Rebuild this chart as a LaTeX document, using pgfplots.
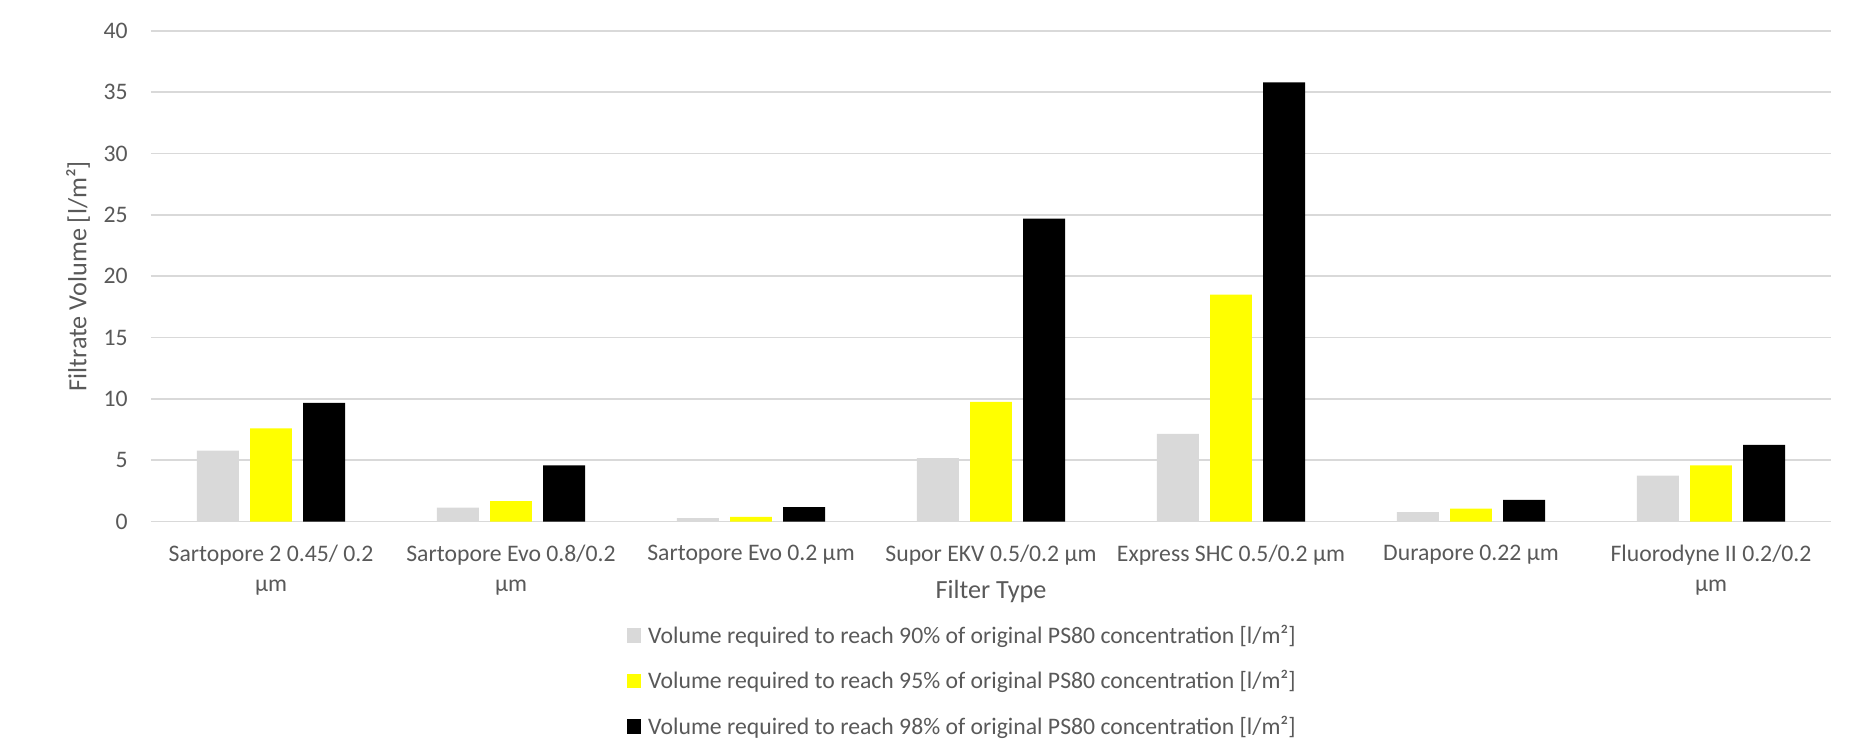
\documentclass[border=0pt]{standalone}
\usepackage{pgfplots}
\pgfplotsset{compat=1.18}
\usepackage{fontspec}
\setmainfont{Carlito}
\definecolor{txt}{HTML}{595959}
\definecolor{grd}{HTML}{D9D9D9}
\definecolor{sgray}{HTML}{D9D9D9}
\definecolor{syel}{HTML}{FFFF00}
\begin{document}
\begin{tikzpicture}
\begin{axis}[
  at={(0,0)}, anchor=south west,
  scale only axis, width=840pt, height=245.3pt,
  xmin=-0.5, xmax=6.5, ymin=0, ymax=40,
  ytick={0,5,...,40},
  xtick={0,...,6},
  xticklabels={{Sartopore 2 0.45/ 0.2\\µm},{Sartopore Evo 0.8/0.2\\µm},{Sartopore Evo 0.2 µm},{Supor EKV 0.5/0.2 µm},{Express SHC 0.5/0.2 µm},{Durapore 0.22 µm},{Fluorodyne II 0.2/0.2\\µm}},
  xticklabel style={align=center, font=\fontsize{11.85}{15}\selectfont, text=txt, anchor=north, inner sep=0pt, yshift=-11.7pt},
  yticklabel style={font=\fontsize{11.85}{14}\selectfont, text=txt, anchor=east, inner sep=0pt, xshift=-11.5pt},
  /pgf/number format/assume math mode=true,
  major tick length=0pt,
  axis line style={draw=none},
  ymajorgrids, grid style={grd, line width=0.75pt},
  xlabel={Filter Type},
  ylabel={Filtrate Volume [l/m²]},
  xlabel style={at={(axis description cs:0.5,-0.1425)}, anchor=center, font=\fontsize{13.1}{15}\selectfont, text=txt},
  ylabel style={at={(axis description cs:-0.04345,0.5)}, anchor=center, font=\fontsize{13.1}{15}\selectfont, text=txt},
  legend style={at={(axis description cs:0.2831,-0.3251)}, anchor=west, draw=none, inner sep=0pt, outer sep=0pt, font=\fontsize{11.85}{14}\selectfont, text=txt, row sep=8.1pt, legend cell align=left,
    /tikz/every odd column/.append style={column sep=1.6pt}},
  legend image code/.code={\fill[#1] (0pt,-3.6pt) rectangle (7.2pt,3.6pt);},
]
\addplot[ybar, fill=sgray, draw=none, bar width=0.1743, bar shift=-0.2213] coordinates {(0,5.78) (1,1.14) (2,0.27) (3,5.16) (4,7.15) (5,0.76) (6,3.75)};
\addlegendentry{Volume required to reach 90\% of original PS80 concentration [l/m²]}
\addplot[ybar, fill=syel, draw=none, bar width=0.1743, bar shift=0] coordinates {(0,7.6) (1,1.66) (2,0.38) (3,9.76) (4,18.5) (5,1.06) (6,4.57)};
\addlegendentry{Volume required to reach 95\% of original PS80 concentration [l/m²]}
\addplot[ybar, fill=black, draw=none, bar width=0.1743, bar shift=0.2213] coordinates {(0,9.68) (1,4.57) (2,1.17) (3,24.7) (4,35.8) (5,1.77) (6,6.25)};
\addlegendentry{Volume required to reach 98\% of original PS80 concentration [l/m²]}
\end{axis}
\pgfresetboundingbox
\useasboundingbox (-75.5pt,-111.75pt) rectangle (856pt,260.75pt);
\end{tikzpicture}
\end{document}
